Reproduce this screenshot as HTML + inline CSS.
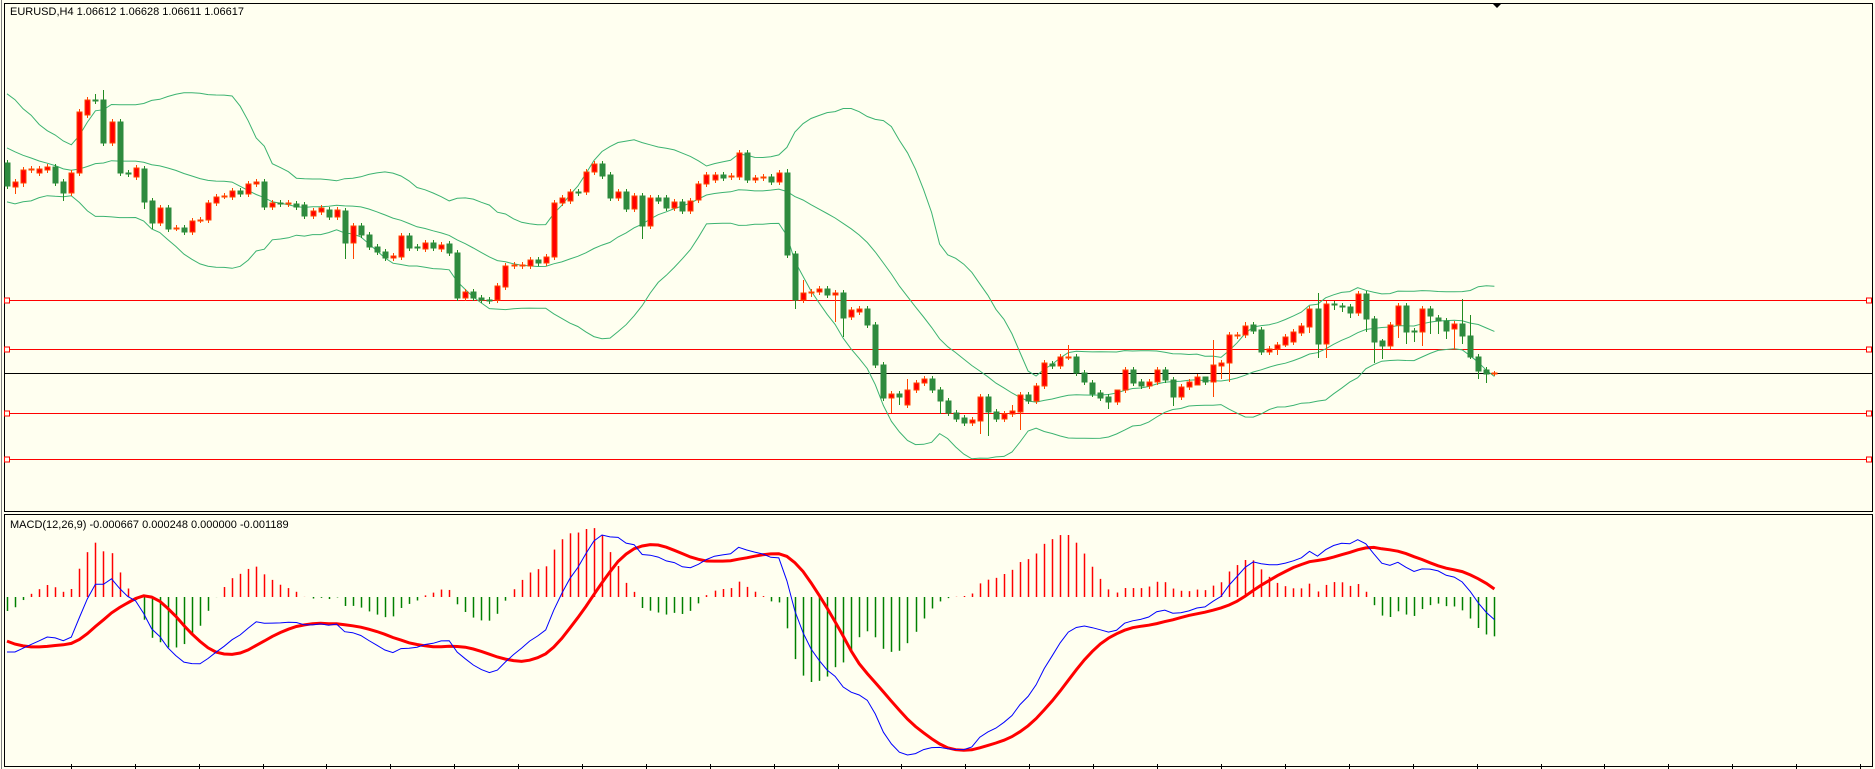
<!DOCTYPE html>
<html><head><meta charset="utf-8"><style>
html,body{margin:0;padding:0;background:#fffff0;}
svg{display:block;font-family:"Liberation Sans",sans-serif;}
</style></head><body>
<svg id="chart" width="1875" height="769" viewBox="0 0 1875 769" xmlns="http://www.w3.org/2000/svg">
<rect x="0" y="0" width="1875" height="769" fill="#fffff0"/>
<line x1="1.5" y1="0" x2="1.5" y2="769" stroke="#808080"/>
<rect x="4.5" y="3.5" width="1868" height="508" fill="none" stroke="#000"/>
<rect x="4.5" y="514.5" width="1868" height="252" fill="none" stroke="#000"/>
<g id="levels"></g>
<g id="bands"></g>
<g id="candles"></g>
<g id="macd"></g>
<g id="ticks"></g>
<polygon points="1493,4 1501,4 1497,8" fill="#000"/>
<text x="10" y="15" font-size="11" fill="#000">EURUSD,H4  1.06612 1.06628 1.06611 1.06617</text>
<text x="10" y="528" font-size="11" fill="#000">MACD(12,26,9) -0.000667 0.000248 0.000000 -0.001189</text>
</svg>
<script>
// prices in pips above 1.0000
const priorCloses=[920,935,940,925,930,915,905,910,895,900,890,880,885,870,875,865,870,860,865,855];
const opens=[876,852,856,869,866,869,872,857,846,866,924,939,939,896,917,866,862,870,838,816,831,810,811,807,818,819,836,842,842,848,845,855,857,832,836,835,835,834,823,827,829,822,828,796,813,804,792,787,781,782,803,792,790,796,790,795,786,741,747,741,739,739,752,773,773,773,779,776,782,836,838,847,847,867,875,864,841,847,830,843,813,841,841,831,837,828,839,855,859,864,862,862,886,859,861,862,857,866,785,739,746,747,750,744,746,722,727,730,714,674,641,645,634,649,656,660,649,638,626,621,616,618,642,627,620,625,627,644,638,653,675,673,681,682,666,656,646,642,637,649,669,657,653,657,669,659,642,652,654,662,657,673,676,703,704,714,709,687,690,694,697,706,712,730,695,735,733,732,726,745,720,698,693,714,733,708,707,730,721,718,710,715,703,682,669,665];
const closes=[853,857,869,870,870,872,856,846,866,927,939,938,896,917,866,865,871,837,816,831,810,811,807,818,819,836,842,843,848,845,855,857,832,836,835,836,832,823,828,831,822,829,796,813,804,792,787,781,783,803,791,791,796,791,794,786,741,747,741,739,738,753,773,774,774,779,776,782,836,841,847,846,867,875,863,841,847,830,843,813,841,838,831,837,828,838,855,864,864,861,863,886,859,861,862,857,866,784,739,746,747,750,744,746,721,729,730,714,674,641,645,642,649,656,660,649,638,626,620,616,619,642,627,620,625,628,644,638,653,676,673,682,682,666,657,645,641,637,649,669,656,653,657,669,659,642,652,657,662,657,674,676,704,704,713,708,687,690,694,702,707,713,730,695,735,734,732,726,745,720,697,693,714,733,707,707,730,723,718,708,715,703,682,668,665,666];
const highs=[879,860,872,873,873,875,875,860,869,930,942,945,949,920,920,869,874,873,841,834,834,814,814,821,822,839,845,846,851,851,858,860,860,839,839,839,838,837,831,834,832,832,831,816,816,807,795,790,786,806,806,795,799,799,797,798,789,750,750,744,742,756,776,777,777,782,782,785,839,844,850,850,870,878,878,867,850,850,846,846,844,844,844,840,840,841,858,867,867,867,866,889,889,864,865,865,869,870,788,759,750,753,753,749,749,732,733,733,717,677,648,648,660,659,663,663,652,641,629,624,622,645,645,630,628,634,647,647,656,679,678,685,694,685,669,659,649,645,640,672,672,660,660,672,672,662,655,660,665,662,699,679,707,707,717,717,712,693,697,705,710,716,733,746,738,738,736,735,748,748,723,700,717,736,736,711,733,733,724,721,718,740,724,685,672,668];
const lows=[850,845,852,866,863,866,853,838,843,863,921,935,893,893,863,862,859,830,810,813,807,808,804,804,816,816,833,840,839,842,842,852,829,829,832,832,829,820,820,824,819,819,780,780,801,789,784,778,778,779,788,788,787,788,787,783,738,738,738,736,735,736,749,770,770,770,773,773,779,833,835,843,844,864,860,838,838,827,827,800,810,835,828,828,825,825,836,852,856,858,859,859,856,856,858,854,854,781,730,736,742,744,741,717,702,719,724,711,671,638,626,634,631,646,653,646,625,623,617,613,613,605,603,617,617,622,609,635,635,650,670,670,679,663,654,642,638,630,634,646,653,650,650,654,656,633,639,649,654,654,642,660,657,700,701,705,684,684,684,692,694,703,706,681,681,729,727,721,723,707,676,680,690,701,695,697,693,705,705,700,690,695,680,660,656,663];
const levelPrices=[739,690,626,580];
const currentPrice=666;
const bbPeriod=20, bbDev=2, fastPeriod=12, slowPeriod=26, signalPeriod=9;

const NS="http://www.w3.org/2000/svg";
const X0=7, DX=8.04, PRICE_Y_AT_ZERO=1039;
function xAt(i){return X0+DX*i;}
function yPrice(p){return PRICE_Y_AT_ZERO-p;}
function mk(tag,attrs,parent){const e=document.createElementNS(NS,tag);for(const k in attrs)e.setAttribute(k,attrs[k]);parent.appendChild(e);return e;}

// levels
const gL=document.getElementById('levels');
levelPrices.forEach(p=>{
  const y=Math.round(yPrice(p))+0.5;
  const l=mk('line',{x1:5,x2:1872,y1:y,y2:y,stroke:'#ff0000','stroke-width':1},gL);
  
  
  [7,1869].forEach(cx=>{
    const r=mk('rect',{x:cx-2.5,y:y-2.5,width:5,height:5,fill:'#fffff0',stroke:'#ff0000'},gL);
    
    
  });
});
{
  const y=Math.round(yPrice(currentPrice))+0.5;
  const l=mk('line',{x1:5,x2:1872,y1:y,y2:y,stroke:'#000','stroke-width':1},gL);
  
  
}

// indicators use prior history for warm-up
const P0=priorCloses.length;
const fullCloses=priorCloses.concat(closes);

// bollinger
const up=[],mid=[],dn=[];
for(let i=0;i<closes.length;i++){
  const j=i+P0;
  const s=Math.max(0,j-bbPeriod+1);const w=fullCloses.slice(s,j+1);
  const m=w.reduce((a,b)=>a+b,0)/w.length;
  const sd=Math.sqrt(w.reduce((a,b)=>a+(b-m)*(b-m),0)/w.length);
  mid.push(m);up.push(m+bbDev*sd);dn.push(m-bbDev*sd);
}
const gB=document.getElementById('bands');
[[up,'bollinger-upper'],[mid,'bollinger-middle'],[dn,'bollinger-lower']].forEach(([arr,name])=>{
  const pts=arr.map((v,i)=>xAt(i).toFixed(1)+','+yPrice(v).toFixed(1)).join(' ');
  const pl=mk('polyline',{points:pts,fill:'none',stroke:'#3cb371','stroke-width':1},gB);
  
  
});

// candles
const gC=document.getElementById('candles');
for(let i=0;i<closes.length;i++){
  const o=opens[i],c=closes[i],bull=c>=o;
  const x=Math.round(xAt(i))+0.5;
  const wick=mk('line',{x1:x,x2:x,y1:yPrice(highs[i]),y2:yPrice(lows[i]),stroke:bull?'#ff4500':'#228b22','stroke-width':1},gC);
  
  
  const top=yPrice(Math.max(o,c)),bot=yPrice(Math.min(o,c));
  const body=mk('rect',{x:x-2.5,y:top,width:5,height:Math.max(1,bot-top),fill:bull?'#ff0000':'#2e8b3e',stroke:bull?'#ff4500':'#2e8b3e','stroke-width':1},gC);
  
  
}

// macd
function ema(arr,n){const k=2/(n+1);const out=[];let e=arr[0];arr.forEach((v,i)=>{e=i===0?v:v*k+e*(1-k);out.push(e);});return out;}
const ef=ema(fullCloses,fastPeriod),es=ema(fullCloses,slowPeriod);
const macdFull=fullCloses.map((_,i)=>ef[i]-es[i]);
const signalFull=macdFull.map((_,i)=>{const s=Math.max(0,i-signalPeriod+1);const w=macdFull.slice(s,i+1);return w.reduce((a,b)=>a+b,0)/w.length;});
const macdLine=macdFull.slice(P0), signal=signalFull.slice(P0);
const hist=macdLine.map((v,i)=>v-signal[i]);
const all=macdLine.concat(signal);
const mn=Math.min(...all),mx=Math.max(...all);
function yMacd(v){return 755-(v-mn)/(mx-mn)*220;}
const hMax=Math.max(...hist.map(Math.abs));
const HZERO=597;
function yHist(v){return HZERO-v/hMax*85;}
const gM=document.getElementById('macd');
hist.forEach((v,i)=>{
  const x=Math.round(xAt(i))+0.5;
  const b=mk('line',{x1:x,x2:x,y1:HZERO,y2:yHist(v),stroke:v>=0?'#ff0000':'#008000','stroke-width':1.5},gM);
  
  
});
const sigL=mk('polyline',{points:signal.map((v,i)=>xAt(i).toFixed(1)+','+yMacd(v).toFixed(1)).join(' '),fill:'none',stroke:'#ff0000','stroke-width':3},gM);


const mL=mk('polyline',{points:macdLine.map((v,i)=>xAt(i).toFixed(1)+','+yMacd(v).toFixed(1)).join(' '),fill:'none',stroke:'#0000ff','stroke-width':1},gM);



// ticks
const gT=document.getElementById('ticks');
for(let x=70.8;x<1872;x+=63.9){
  const t=mk('line',{x1:Math.round(x)+0.5,x2:Math.round(x)+0.5,y1:764,y2:769,stroke:'#000'},gT);
  
  
}
</script>
</body></html>
